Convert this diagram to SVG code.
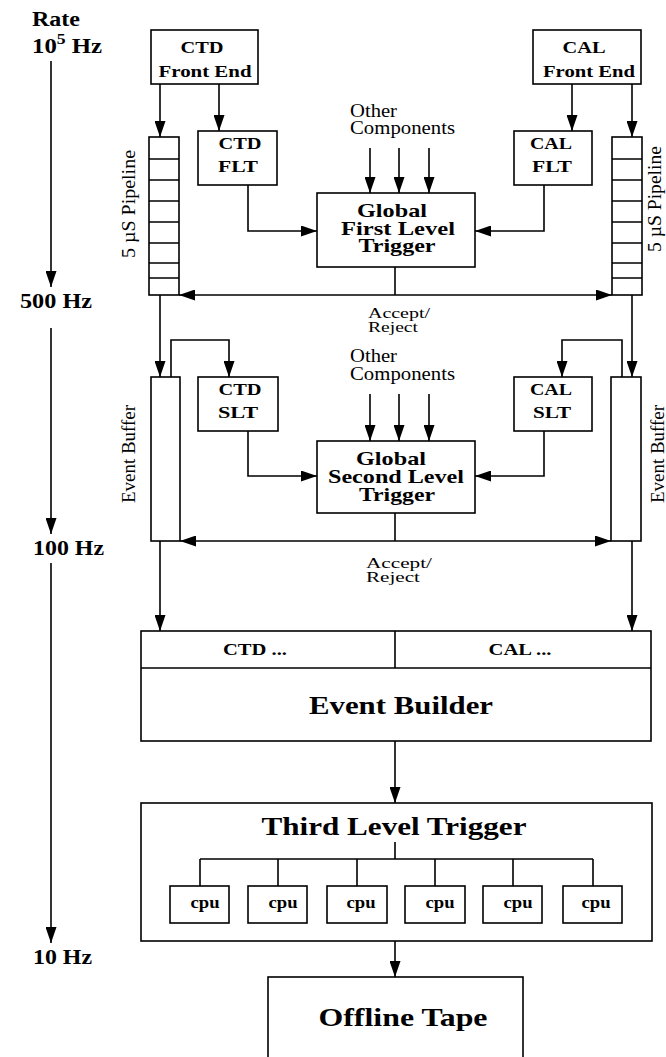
<svg xmlns="http://www.w3.org/2000/svg" width="666" height="1057" viewBox="0 0 666 1057">
<style>
.box{fill:#fff;stroke:#000;stroke-width:1.6}
.ln{fill:none;stroke:#000;stroke-width:1.6}
.ar{marker-end:url(#ah)}
.b{font-family:"Liberation Serif","Times New Roman",serif;font-weight:bold;fill:#000}
.r{font-family:"Liberation Serif","Times New Roman",serif;font-weight:normal;fill:#000}
.m{text-anchor:middle}
.s17{font-size:17px}
.s26{font-size:26px}
</style>
<defs>
<marker id="ah" viewBox="0 0 16 11" refX="16" refY="5.5" markerWidth="16" markerHeight="11" markerUnits="userSpaceOnUse" orient="auto-start-reverse"><path d="M0,0 L16,5.5 L0,11 z" fill="#000"/></marker>
</defs>
<rect width="666" height="1057" fill="#fff"/>

<g id="rate">
<text class="b" x="32" y="26" font-size="20" textLength="48" lengthAdjust="spacingAndGlyphs">Rate</text>
<text class="b" transform="translate(32,53) scale(1.18,1)" font-size="21">10<tspan font-size="15" dy="-9">5</tspan><tspan dy="9"> Hz</tspan></text>
<text class="b" x="20" y="308" font-size="21" textLength="72" lengthAdjust="spacingAndGlyphs">500 Hz</text>
<text class="b" x="33" y="555" font-size="21" textLength="71" lengthAdjust="spacingAndGlyphs">100 Hz</text>
<text class="b" x="33" y="964" font-size="21" textLength="59" lengthAdjust="spacingAndGlyphs">10 Hz</text>
</g>

<g id="connectors">
<path class="ln ar" d="M51,61 V287"/>
<path class="ln ar" d="M51,328 V534"/>
<path class="ln ar" d="M51,563 V943"/>
<path class="ln ar" d="M160,84 V137"/>
<path class="ln ar" d="M219,84 V131"/>
<path class="ln ar" d="M572,84 V131"/>
<path class="ln ar" d="M632,84 V137"/>
<path class="ln ar" d="M248,185 V231 H317"/>
<path class="ln ar" d="M544,185 V231 H475"/>
<path class="ln ar" d="M370,148 V193"/>
<path class="ln ar" d="M399,148 V193"/>
<path class="ln ar" d="M429,148 V193"/>
<path class="ln" d="M395,267 V295"/>
<path class="ln" d="M179,295 H612" marker-start="url(#ah)" marker-end="url(#ah)"/>
<path class="ln ar" d="M160,295 V377"/>
<path class="ln ar" d="M632,295 V377"/>
<path class="ln ar" d="M171,377 V340 H229 V377"/>
<path class="ln ar" d="M622,377 V340 H562 V377"/>
<path class="ln ar" d="M248,431 V476 H317"/>
<path class="ln ar" d="M544,431 V476 H475"/>
<path class="ln ar" d="M370,394 V441"/>
<path class="ln ar" d="M399,394 V441"/>
<path class="ln ar" d="M429,394 V441"/>
<path class="ln" d="M395,513 V541"/>
<path class="ln" d="M180,541 H611" marker-start="url(#ah)" marker-end="url(#ah)"/>
<path class="ln ar" d="M160,541 V631"/>
<path class="ln ar" d="M632,541 V631"/>
<path class="ln ar" d="M395,741 V803"/>
<path class="ln ar" d="M395,941 V977"/>
<text class="r" x="368" y="318" font-size="15" textLength="62" lengthAdjust="spacingAndGlyphs">Accept/</text>
<text class="r" x="368" y="332" font-size="15" textLength="50" lengthAdjust="spacingAndGlyphs">Reject</text>
<text class="r" x="366" y="568" font-size="15" textLength="66" lengthAdjust="spacingAndGlyphs">Accept/</text>
<text class="r" x="366" y="582" font-size="15" textLength="54" lengthAdjust="spacingAndGlyphs">Reject</text>
</g>

<g id="ctd-front-end">
<rect class="box" x="151" y="30" width="107" height="54"/>
<text class="b m s17" x="202" y="53" textLength="43" lengthAdjust="spacingAndGlyphs">CTD</text>
<text class="b m s17" x="205" y="77" textLength="93" lengthAdjust="spacingAndGlyphs">Front End</text>
</g>

<g id="cal-front-end">
<rect class="box" x="533" y="30" width="108" height="54"/>
<text class="b m s17" x="584" y="53" textLength="43" lengthAdjust="spacingAndGlyphs">CAL</text>
<text class="b m s17" x="589" y="77" textLength="92" lengthAdjust="spacingAndGlyphs">Front End</text>
</g>

<g id="ctd-pipeline">
<rect class="box" x="149" y="137" width="30" height="158"/>
<path class="ln" d="M149,159 H179 M149,180 H179 M149,201 H179 M149,222 H179 M149,243 H179 M149,263 H179 M149,278 H179"/>
<text class="r m" transform="translate(135,204) rotate(-90)" font-size="18" textLength="108" lengthAdjust="spacingAndGlyphs">5 µS Pipeline</text>
</g>

<g id="cal-pipeline">
<rect class="box" x="612" y="137" width="30" height="158"/>
<path class="ln" d="M612,159 H642 M612,180 H642 M612,201 H642 M612,222 H642 M612,243 H642 M612,263 H642 M612,278 H642"/>
<text class="r m" transform="translate(661,199) rotate(-90)" font-size="18" textLength="106" lengthAdjust="spacingAndGlyphs">5 µS Pipeline</text>
</g>

<g id="ctd-flt">
<rect class="box" x="198" y="131" width="79" height="54"/>
<text class="b m s17" x="240" y="149" textLength="43" lengthAdjust="spacingAndGlyphs">CTD</text>
<text class="b m s17" x="238" y="172" textLength="40" lengthAdjust="spacingAndGlyphs">FLT</text>
</g>

<g id="cal-flt">
<rect class="box" x="514" y="131" width="78" height="54"/>
<text class="b m s17" x="551" y="149" textLength="42" lengthAdjust="spacingAndGlyphs">CAL</text>
<text class="b m s17" x="552" y="172" textLength="40" lengthAdjust="spacingAndGlyphs">FLT</text>
</g>

<g id="other-components-1">
<text class="r" x="350" y="117" font-size="18" textLength="47" lengthAdjust="spacingAndGlyphs">Other</text>
<text class="r" x="350" y="134" font-size="18" textLength="105" lengthAdjust="spacingAndGlyphs">Components</text>
</g>

<g id="global-flt">
<rect class="box" x="317" y="193" width="158" height="74"/>
<text class="b m" x="392" y="217" font-size="19" textLength="70" lengthAdjust="spacingAndGlyphs">Global</text>
<text class="b m" x="398" y="235" font-size="19" textLength="114" lengthAdjust="spacingAndGlyphs">First Level</text>
<text class="b m" x="397" y="252" font-size="19" textLength="77" lengthAdjust="spacingAndGlyphs">Trigger</text>
</g>

<g id="ctd-event-buffer">
<rect class="box" x="151" y="377" width="29" height="164"/>
<text class="r m" transform="translate(135,454) rotate(-90)" font-size="18" textLength="98" lengthAdjust="spacingAndGlyphs">Event Buffer</text>
</g>

<g id="cal-event-buffer">
<rect class="box" x="611" y="377" width="30" height="164"/>
<text class="r m" transform="translate(664,454) rotate(-90)" font-size="18" textLength="98" lengthAdjust="spacingAndGlyphs">Event Buffer</text>
</g>

<g id="ctd-slt">
<rect class="box" x="198" y="377" width="80" height="54"/>
<text class="b m s17" x="240" y="395" textLength="43" lengthAdjust="spacingAndGlyphs">CTD</text>
<text class="b m s17" x="238" y="418" textLength="40" lengthAdjust="spacingAndGlyphs">SLT</text>
</g>

<g id="cal-slt">
<rect class="box" x="514" y="377" width="78" height="54"/>
<text class="b m s17" x="551" y="395" textLength="42" lengthAdjust="spacingAndGlyphs">CAL</text>
<text class="b m s17" x="552" y="418" textLength="38" lengthAdjust="spacingAndGlyphs">SLT</text>
</g>

<g id="other-components-2">
<text class="r" x="350" y="362" font-size="18" textLength="47" lengthAdjust="spacingAndGlyphs">Other</text>
<text class="r" x="350" y="380" font-size="18" textLength="105" lengthAdjust="spacingAndGlyphs">Components</text>
</g>

<g id="global-slt">
<rect class="box" x="317" y="441" width="158" height="72"/>
<text class="b m" x="391" y="465" font-size="19" textLength="70" lengthAdjust="spacingAndGlyphs">Global</text>
<text class="b m" x="396" y="483" font-size="19" textLength="136" lengthAdjust="spacingAndGlyphs">Second Level</text>
<text class="b m" x="397" y="501" font-size="19" textLength="76" lengthAdjust="spacingAndGlyphs">Trigger</text>
</g>

<g id="event-builder">
<rect class="box" x="141" y="631" width="510" height="110"/>
<path class="ln" d="M141,668 H651 M395,631 V668"/>
<text class="b m" x="255" y="655" font-size="17" textLength="64" lengthAdjust="spacingAndGlyphs">CTD ...</text>
<text class="b m" x="520" y="655" font-size="17" textLength="63" lengthAdjust="spacingAndGlyphs">CAL ...</text>
<text class="b m s26" x="401" y="714" textLength="184" lengthAdjust="spacingAndGlyphs">Event Builder</text>
</g>

<g id="third-level-trigger">
<rect class="box" x="141" y="803" width="511" height="138"/>
<text class="b m s26" x="394" y="835" textLength="265" lengthAdjust="spacingAndGlyphs">Third Level Trigger</text>
<path class="ln" d="M395,842 V859 M200,859 H593 M200,859 V886 M278,859 V886 M357,859 V886 M435,859 V886 M513,859 V886 M593,859 V886"/>
</g>

<g id="cpu-1"><rect class="box" x="170" y="886" width="59" height="37"/><text class="b m" x="205" y="908" font-size="16" textLength="29" lengthAdjust="spacingAndGlyphs">cpu</text></g>
<g id="cpu-2"><rect class="box" x="248" y="886" width="59" height="37"/><text class="b m" x="283" y="908" font-size="16" textLength="29" lengthAdjust="spacingAndGlyphs">cpu</text></g>
<g id="cpu-3"><rect class="box" x="327" y="886" width="60" height="37"/><text class="b m" x="361" y="908" font-size="16" textLength="29" lengthAdjust="spacingAndGlyphs">cpu</text></g>
<g id="cpu-4"><rect class="box" x="405" y="886" width="60" height="37"/><text class="b m" x="440" y="908" font-size="16" textLength="29" lengthAdjust="spacingAndGlyphs">cpu</text></g>
<g id="cpu-5"><rect class="box" x="483" y="886" width="59" height="37"/><text class="b m" x="518" y="908" font-size="16" textLength="29" lengthAdjust="spacingAndGlyphs">cpu</text></g>
<g id="cpu-6"><rect class="box" x="563" y="886" width="59" height="37"/><text class="b m" x="596" y="908" font-size="16" textLength="29" lengthAdjust="spacingAndGlyphs">cpu</text></g>

<g id="offline-tape">
<rect class="box" x="268" y="977" width="255" height="100"/>
<text class="b m s26" x="403" y="1026" textLength="169" lengthAdjust="spacingAndGlyphs">Offline Tape</text>
</g>
</svg>
